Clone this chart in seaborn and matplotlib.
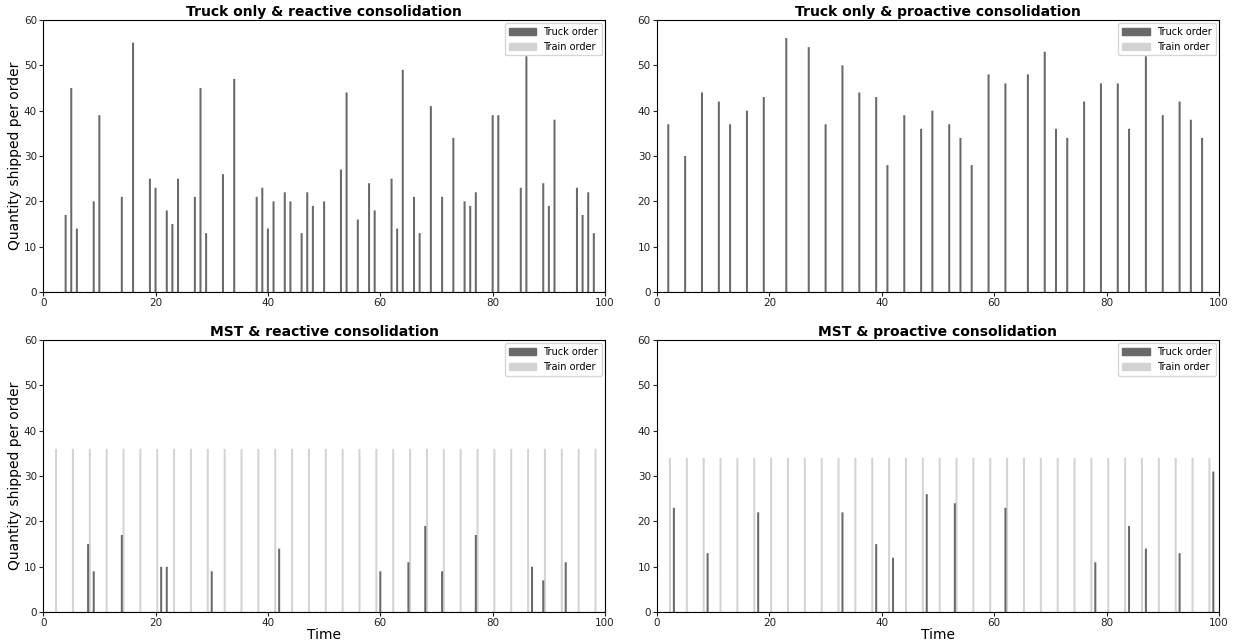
import numpy as np
import seaborn as sns
import matplotlib
matplotlib.use("Agg")
import matplotlib.pyplot as plt
from matplotlib.patches import Patch

# Truck only & reactive consolidation
tr_react_t = [4, 5, 6, 9, 10, 14, 16, 19, 20, 22, 23, 24, 27, 28, 29, 32, 34, 38, 39, 40,
              41, 43, 44, 46, 47, 48, 50, 53, 54, 56, 58, 59, 62, 63, 64, 66, 67, 69, 71, 73,
              75, 76, 77, 80, 81, 85, 86, 89, 90, 91, 95, 96, 97, 98]
tr_react_q = [17, 45, 14, 20, 39, 21, 55, 25, 23, 18, 15, 25, 21, 45, 13, 26, 47, 21, 23, 14,
              20, 22, 20, 13, 22, 19, 20, 27, 44, 16, 24, 18, 25, 14, 49, 21, 13, 41, 21, 34,
              20, 19, 22, 39, 39, 23, 52, 24, 19, 38, 23, 17, 22, 13]

# Truck only & proactive consolidation
tr_pro_t = [2, 5, 8, 11, 13, 16, 19, 23, 27, 30, 33, 36, 39, 41, 44, 47, 49, 52, 54, 56,
            59, 62, 66, 69, 71, 73, 76, 79, 82, 84, 87, 90, 93, 95, 97]
tr_pro_q = [37, 30, 44, 42, 37, 40, 43, 56, 54, 37, 50, 44, 43, 28, 39, 36, 40, 37, 34, 28,
            48, 46, 48, 53, 36, 34, 42, 46, 46, 36, 52, 39, 42, 38, 34]

# MST & reactive consolidation
mst_react_truck_t = [8, 9, 14, 21, 22, 30, 42, 60, 65, 68, 71, 77, 87, 89, 93]
mst_react_truck_q = [15, 9, 17, 10, 10, 9, 14, 9, 11, 19, 9, 17, 10, 7, 11]
train_t = list(range(2, 99, 3))
mst_react_train_q = [36] * len(train_t)

# MST & proactive consolidation
mst_pro_truck_t = [3, 9, 18, 33, 39, 42, 48, 53, 62, 78, 84, 87, 93, 99]
mst_pro_truck_q = [23, 13, 22, 22, 15, 12, 26, 24, 23, 11, 19, 14, 13, 31]
mst_pro_train_q = [34] * len(train_t)

truck_color = "#696969"
train_color = "#d3d3d3"
bar_w = 0.36

sns.set_style("ticks", {"axes.edgecolor": "black", "text.color": "black",
                        "xtick.color": "#222222", "ytick.color": "#222222",
                        "axes.labelcolor": "black"})
plt.rcParams["font.family"] = ["DejaVu Sans"]

panels = [
    ("Truck only & reactive consolidation", tr_react_t, tr_react_q, None, None),
    ("Truck only & proactive consolidation", tr_pro_t, tr_pro_q, None, None),
    ("MST & reactive consolidation", mst_react_truck_t, mst_react_truck_q, train_t, mst_react_train_q),
    ("MST & proactive consolidation", mst_pro_truck_t, mst_pro_truck_q, train_t, mst_pro_train_q),
]

fig, axes = plt.subplots(2, 2, figsize=(12.33, 6.43), dpi=100)
fig.subplots_adjust(left=0.035, right=0.9886, top=0.969, bottom=0.048,
                    wspace=0.0925, hspace=0.176)

for i, (ax, (title, tt, tq, rt, rq)) in enumerate(zip(axes.flat, panels)):
    if rt is not None:
        ax.bar(np.array(rt) + 0.3, rq, width=bar_w, color=train_color, linewidth=0, snap=False)
    ax.bar(tt, tq, width=bar_w, color=truck_color, linewidth=0, snap=False)
    ax.axhline(0, color="black", ls="--", lw=0.8)
    ax.set_xlim(0, 100)
    ax.set_ylim(0, 60)
    ax.set_xticks(range(0, 101, 20))
    ax.set_yticks(range(0, 61, 10))
    ax.tick_params(labelsize=7.5, length=3, width=0.8, pad=1.5)
    ax.set_title(title, fontsize=10, fontweight="bold", pad=3)
    for sp in ax.spines.values():
        sp.set_visible(True)
        sp.set_color("black")
        sp.set_linewidth(0.8)
    ax.set_xlabel("Time" if i >= 2 else "", fontsize=10, labelpad=0)
    ax.set_ylabel("Quantity shipped per order" if i % 2 == 0 else "", fontsize=10, labelpad=1)
    handles = [Patch(color=truck_color, label="Truck order"),
               Patch(color=train_color, label="Train order")]
    ax.legend(handles=handles, loc="upper right", fontsize=7, frameon=True,
              handlelength=2.8, handleheight=0.7, borderaxespad=0.3)

fig.savefig("out.png", dpi=100)
